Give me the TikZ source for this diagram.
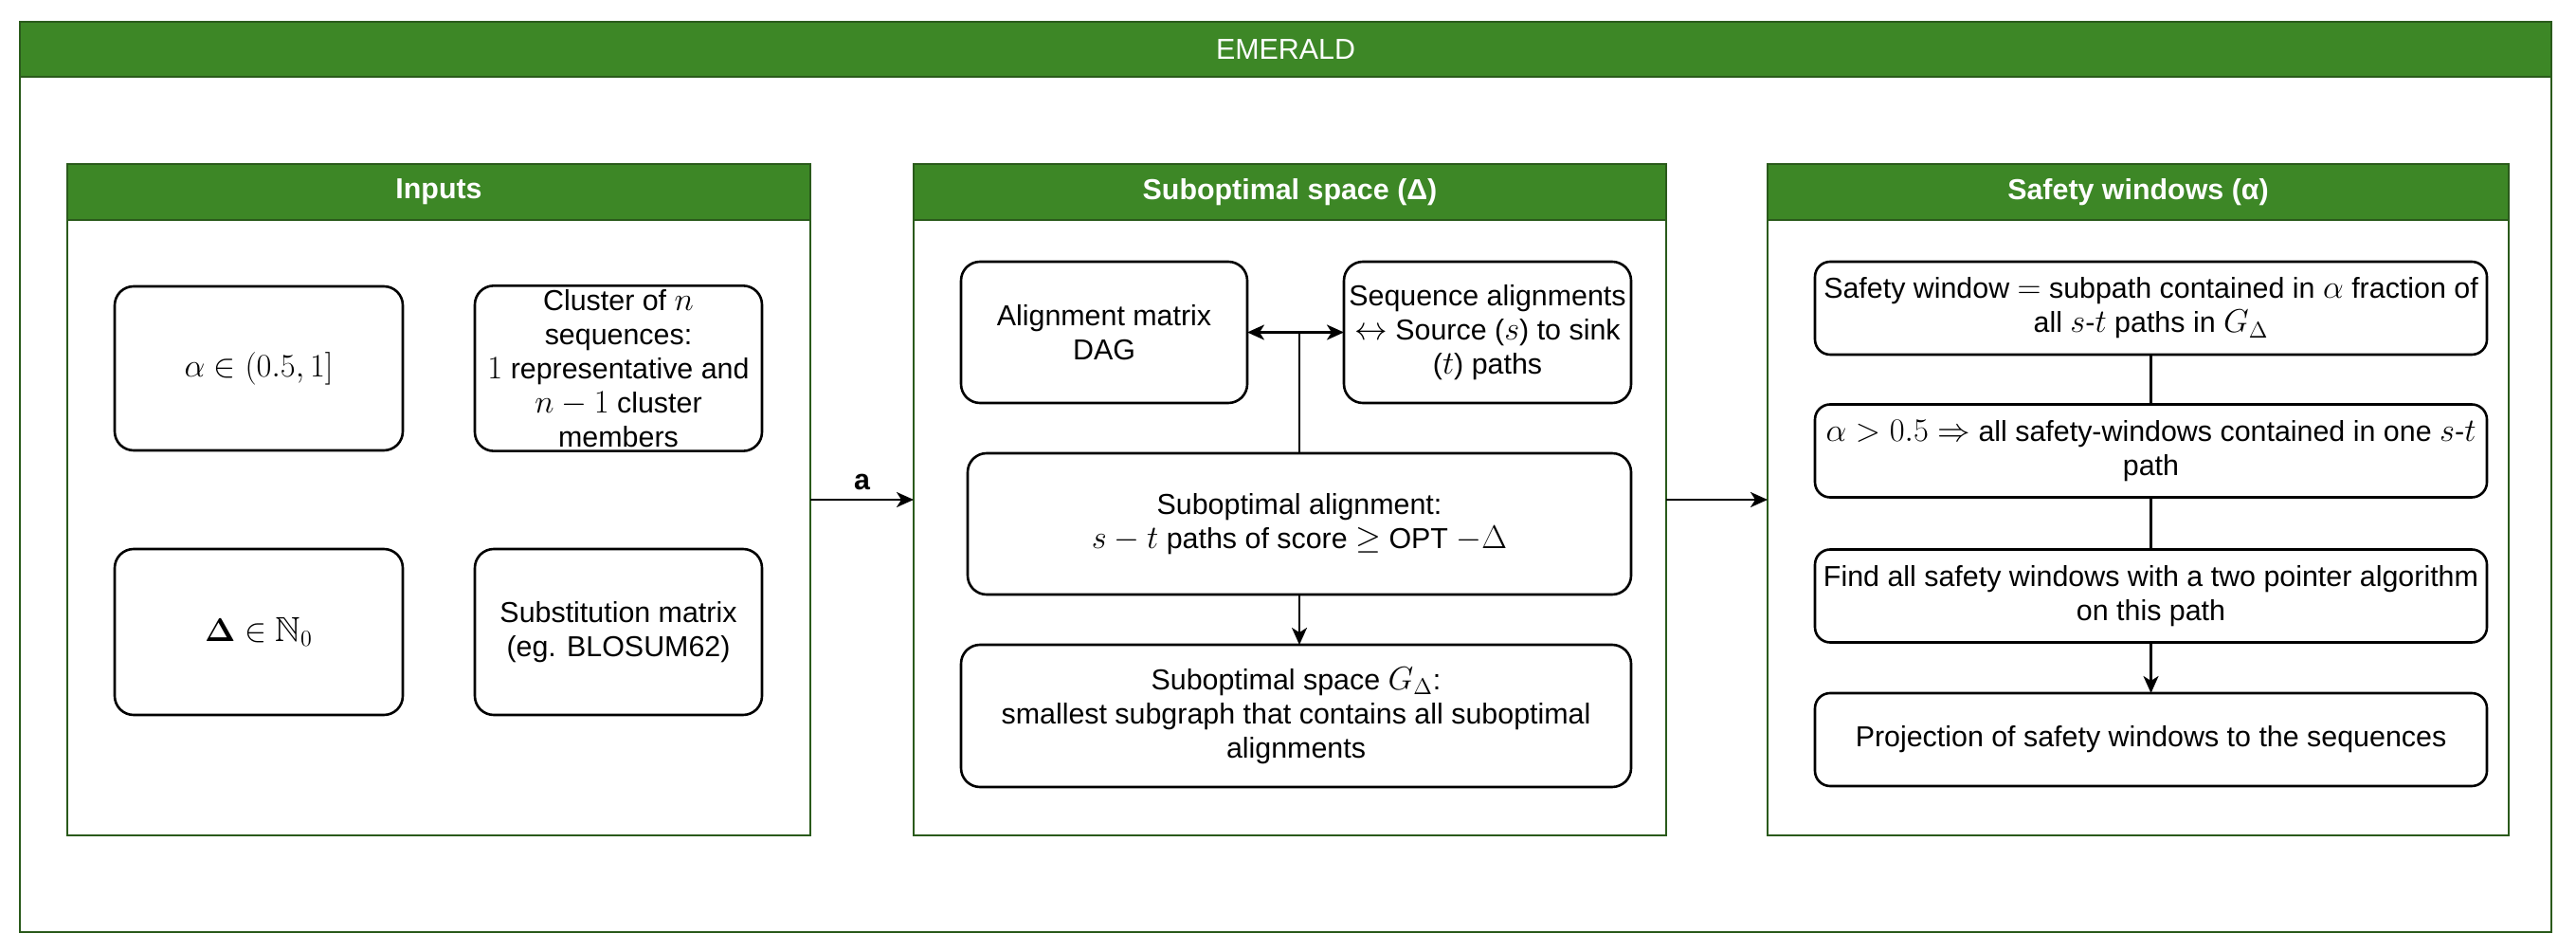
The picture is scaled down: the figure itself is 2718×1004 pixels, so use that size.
\documentclass[tikz,border=0pt]{standalone}
\usepackage{amssymb}
\usepackage[no-math]{fontspec}
\setmainfont{Liberation Sans}
\usetikzlibrary{arrows.meta}
\definecolor{gfill}{HTML}{3D8726}
\definecolor{gline}{HTML}{2A5A1B}
\DeclareMathSizes{15.2}{18.3}{13}{10}
\begin{document}
\begin{tikzpicture}[x=0.5pt,y=-0.5pt,
  txt/.style={font=\fontsize{15.2}{18}\selectfont, align=center},
  panel/.style={draw=gline, line width=1pt, fill=white, inner sep=0pt, outer sep=0pt, anchor=north west},
  phead/.style={draw=gline, line width=1pt, fill=gfill, text=white, inner sep=0pt, outer sep=0pt, anchor=north west, font=\fontsize{15.2}{18}\selectfont},
  box/.style={txt, draw=black, line width=1.3pt, rounded corners=10pt, inner sep=2pt, outer sep=0pt},
  sbox/.style={box, rounded corners=8pt, minimum width=354.5pt, minimum height=49pt},
  conn/.style={line width=1.2pt, -{Stealth[length=9pt,width=8pt,inset=2.5pt]}},
  dconn/.style={line width=1.2pt, {Stealth[length=9pt,width=8pt,inset=2.5pt]}-{Stealth[length=9pt,width=8pt,inset=2.5pt]}},
  plain/.style={line width=1.2pt}
]
\useasboundingbox (0,0) rectangle (2718,1004);
% outer frame
\node[panel, minimum width=1335.5pt, minimum height=480pt] (outer) at (21,23) {};
\node[phead, minimum width=1335.5pt, minimum height=29pt] (outerh) at (21,23) {EMERALD};
% panels
\node[panel, minimum width=392pt, minimum height=354pt] (inp) at (71,173) {};
\node[phead, minimum width=392pt, minimum height=29.5pt, font=\fontsize{15.2}{18}\selectfont\bfseries] (inph) at (71,173) {Inputs};
\node[panel, minimum width=397pt, minimum height=354pt] (sub) at (964,173) {};
\node[phead, minimum width=397pt, minimum height=29.5pt, font=\fontsize{15.2}{18}\selectfont\bfseries] (subh) at (964,173) {Suboptimal space (Δ)};
\node[panel, minimum width=391pt, minimum height=354pt] (saf) at (1865,173) {};
\node[phead, minimum width=391pt, minimum height=29.5pt, font=\fontsize{15.2}{18}\selectfont\bfseries] (safh) at (1865,173) {Safety windows (α)};
% inputs
\node[box, minimum width=152pt, minimum height=86.5pt] (alpha) at (273,388.5) {$\alpha \in (0.5, 1]$};
\node[box, minimum width=151.5pt, minimum height=86.5pt] (clus) at (652.5,388.5) {Cluster of $n$\\sequences:\\$1$ representative and\\$n-1$ cluster\\members};
\node[box, minimum width=152pt, minimum height=87.5pt] (delta) at (273,666.5) {$\mathbf{\Delta} \in \mathbb{N}_0$};
\node[box, minimum width=151.5pt, minimum height=87.5pt] (subst) at (652.5,666.5) {Substitution matrix\\(eg. BLOSUM62)};
% suboptimal space
\node[box, minimum width=151pt, minimum height=74.5pt] (am) at (1165,350.5) {Alignment matrix\\DAG};
\node[box, minimum width=151.5pt, minimum height=74.5pt] (sa) at (1569.5,350.5) {Sequence alignments\\$\leftrightarrow$ Source ($s$) to sink\\($t$) paths};
\node[box, minimum width=350pt, minimum height=74.5pt] (subal) at (1371,552.5) {Suboptimal alignment:\\$s-t$ paths of score $\geq$ OPT $-\Delta$};
\node[box, minimum width=353.5pt, minimum height=75pt] (subsp) at (1367.5,755) {Suboptimal space $G_\Delta$:\\smallest subgraph that contains all suboptimal\\alignments};
% safety windows
\node[sbox] (s1) at (2269.5,325) {Safety window $=$ subpath contained in $\alpha$ fraction of\\all $s$-$t$ paths in $G_\Delta$};
\node[sbox] (s2) at (2269.5,475.5) {$\alpha > 0.5 \Rightarrow$ all safety-windows contained in one $s$-$t$\\path};
\node[sbox] (s3) at (2269.5,628.5) {Find all safety windows with a two pointer algorithm\\on this path};
\node[sbox] (s4) at (2269.5,780) {Projection of safety windows to the sequences};
% connectors
\draw[conn] (inp.east) -- node[above, font=\fontsize{15.2}{18}\selectfont\bfseries, yshift=1pt] {a} (sub.west);
\draw[conn] (sub.east) -- (saf.west);
\draw[dconn] (am.east) -- (sa.west);
\coordinate (jn) at (subal.north |- am.east);
\draw[plain] (subal.north) -- (jn);
\draw[conn] (subal.south) -- (subal.south |- subsp.north);
\draw[plain] (s1.south) -- (s2.north);
\draw[plain] (s2.south) -- (s3.north);
\draw[conn] (s3.south) -- (s4.north);
\end{tikzpicture}
\end{document}
